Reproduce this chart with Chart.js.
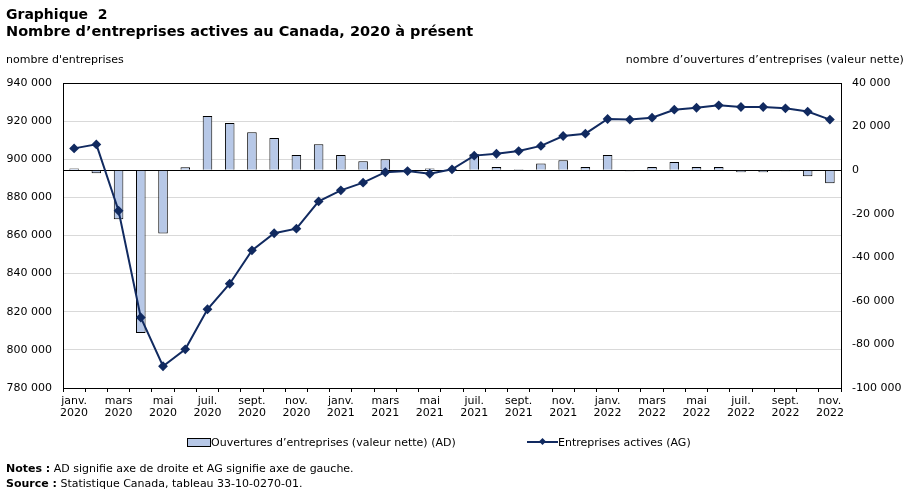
<!DOCTYPE html>
<html lang="fr">
<head>
<meta charset="utf-8">
<script src="https://cdn.jsdelivr.net/npm/chart.js@4.4.0/dist/chart.umd.min.js"></script>
<style>
  body { margin: 0; background: #fff; font-family: "DejaVu Sans", Verdana, sans-serif; color: #000; }
  #page { position: relative; width: 908px; height: 491px; overflow: hidden; }
  #page canvas { position: absolute; left: 0; top: 0; }
  .txt { position: absolute; white-space: nowrap; }
  .titre { font-weight: bold; font-size: 14px; line-height: 17px; }
  .petit { font-size: 11px; line-height: 14px; }
  .cle { display: inline-block; vertical-align: middle; }
</style>
</head>
<body>
<div id="page">
  <canvas id="graph" width="908" height="491"></canvas>
  <div class="txt titre" style="left:6px; top:6px;">Graphique&nbsp; 2</div>
  <div class="txt titre" style="left:6px; top:23px; font-size:14.5px;">Nombre d’entreprises actives au Canada, 2020 à présent</div>
  <div class="txt petit" style="left:6px; top:53px;">nombre d'entreprises</div>
  <div class="txt petit" style="right:4px; top:53px; letter-spacing:0.15px;">nombre d’ouvertures d’entreprises (valeur nette)</div>

  <div class="txt petit" style="left:187px; top:436px;">
    <span class="cle" style="width:22px;height:7px;background:#b7c8e7;border:1px solid #000;margin-top:-2px;"></span>Ouvertures d’entreprises (valeur nette) (AD)
  </div>
  <div class="txt petit" style="left:527px; top:436px;">
    <span class="cle" style="position:relative;width:31px;height:2px;background:#112a60;margin-top:-2px;">
      <span style="position:absolute;left:13px;top:-2px;width:5px;height:5px;background:#112a60;transform:rotate(45deg);"></span>
    </span>Entreprises actives (AG)
  </div>

  <div class="txt petit" style="left:6px; top:462px;"><b>Notes :</b> AD signifie axe de droite et AG signifie axe de gauche.</div>
  <div class="txt petit" style="left:6px; top:477px;"><b>Source :</b> Statistique Canada, tableau 33-10-0270-01.</div>
</div>

<script>
// mois de janvier 2020 a novembre 2022
var categories = [
  'janv. 2020','févr. 2020','mars 2020','avr. 2020','mai 2020','juin 2020',
  'juil. 2020','août 2020','sept. 2020','oct. 2020','nov. 2020','déc. 2020',
  'janv. 2021','févr. 2021','mars 2021','avr. 2021','mai 2021','juin 2021',
  'juil. 2021','août 2021','sept. 2021','oct. 2021','nov. 2021','déc. 2021',
  'janv. 2022','févr. 2022','mars 2022','avr. 2022','mai 2022','juin 2022',
  'juil. 2022','août 2022','sept. 2022','oct. 2022','nov. 2022'
];

// entreprises actives (axe de gauche)
var entreprisesActives = [
  905700, 907800, 873000, 817000, 791400, 800300,
  821300, 834700, 852200, 861200, 863600, 877900,
  883700, 887700, 893200, 893800, 892400, 894700,
  901900, 902900, 904300, 907000, 912200, 913400,
  921100, 920800, 921800, 926000, 927000, 928300,
  927400, 927400, 926700, 925000, 920800
];

// ouvertures d'entreprises, valeur nette (axe de droite)
var ouverturesNettes = [
  800, -1400, -22500, -74800, -29100, 1300,
  24800, 21600, 17400, 14700, 6900, 11900,
  6900, 4100, 5000, 100, 800, 100,
  7300, 1500, 400, 3100, 4500, 1500,
  6900, -500, 1500, 3700, 1500, 1500,
  -1000, -1000, -500, -2800, -6000
];

var ticksGauche = [780000, 800000, 820000, 840000, 860000, 880000, 900000, 920000, 940000];
var ticksDroite = [-100000, -80000, -60000, -40000, -20000, 0, 20000, 40000];

function formatNombre(v) {
  return String(v).replace(/\B(?=(\d{3})+(?!\d))/g, ' ');
}

// cadre noir autour de la zone du graphique
var cadre = {
  id: 'cadre',
  afterDraw: function(chart) {
    var a = chart.chartArea, ctx = chart.ctx;
    ctx.save();
    ctx.strokeStyle = '#000';
    ctx.lineWidth = 1;
    ctx.strokeRect(Math.round(a.left) + 0.5, Math.round(a.top) + 0.5,
                   Math.round(a.right - a.left), Math.round(a.bottom - a.top));
    ctx.restore();
  }
};

var police = { family: '"DejaVu Sans", Verdana, sans-serif', size: 11 };

new Chart(document.getElementById('graph'), {
  data: {
    labels: categories,
    datasets: [
      {
        type: 'line',
        label: 'Entreprises actives (AG)',
        data: entreprisesActives,
        yAxisID: 'y',
        borderColor: '#112a60',
        backgroundColor: '#112a60',
        borderWidth: 2,
        tension: 0,
        pointStyle: 'rectRot',
        pointRadius: 3.5,
        order: 0
      },
      {
        type: 'bar',
        label: 'Ouvertures d’entreprises (valeur nette) (AD)',
        data: ouverturesNettes,
        yAxisID: 'y1',
        backgroundColor: '#b7c8e7',
        borderColor: '#000',
        borderWidth: 1,
        barPercentage: 0.43,
        categoryPercentage: 1,
        order: 1
      }
    ]
  },
  options: {
    responsive: false,
    animation: false,
    layout: { padding: { top: 83, left: 0, right: 0, bottom: 0 } },
    plugins: { legend: { display: false }, tooltip: { enabled: false } },
    scales: {
      x: {
        offset: true,
        afterFit: function(s) { s.height = 103; },
        grid: { offset: true, drawOnChartArea: false, drawTicks: true, tickLength: 4, color: '#000' },
        border: { color: '#000' },
        ticks: {
          autoSkip: false, maxRotation: 0, padding: 3,
          color: '#000', font: { family: police.family, size: 11, lineHeight: 1.1 },
          callback: function(v, i) { return i % 2 === 0 ? categories[i].split(' ') : ''; }
        }
      },
      y: {
        position: 'left',
        min: 780000, max: 940000,
        afterFit: function(s) { s.width = 63; },
        afterBuildTicks: function(s) { s.ticks = ticksGauche.map(function(v) { return { value: v }; }); },
        grid: { color: '#d9d9d9', drawTicks: false },
        border: { color: '#000' },
        ticks: { padding: 11, color: '#000', font: police, callback: formatNombre }
      },
      y1: {
        position: 'right',
        min: -100000, max: 40000,
        afterFit: function(s) { s.width = 67; },
        afterBuildTicks: function(s) { s.ticks = ticksDroite.map(function(v) { return { value: v }; }); },
        grid: {
          drawTicks: false,
          color: function(c) { return c.tick && c.tick.value === 0 ? '#000' : 'rgba(0,0,0,0)'; }
        },
        border: { color: '#000' },
        ticks: { padding: 11, color: '#000', font: police, callback: formatNombre }
      }
    }
  },
  plugins: [cadre]
});
</script>
</body>
</html>
